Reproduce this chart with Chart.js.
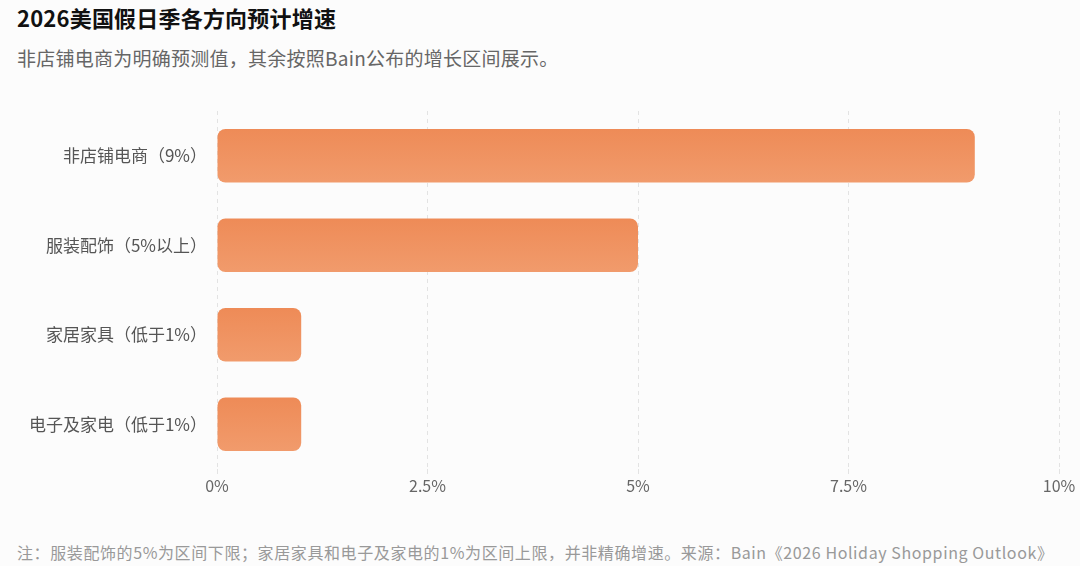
<!DOCTYPE html>
<html>
<head>
<meta charset="utf-8">
<script src="https://cdn.jsdelivr.net/npm/chart.js@4"></script>
<style>
  html, body { margin: 0; padding: 0; background: #fcfcfc; }
  body { width: 1080px; height: 566px; position: relative; overflow: hidden; font-family: "Noto Sans CJK SC", "Noto Sans", sans-serif; }
  #title { position: absolute; left: 17px; top: 2px; font-size: 22px; font-weight: bold; color: #111; line-height: 30px; white-space: nowrap; letter-spacing: 0.2px; }
  #subtitle { position: absolute; left: 17px; top: 44px; font-size: 19px; color: #666; line-height: 28px; white-space: nowrap; letter-spacing: 0.25px; }
  #note { position: absolute; left: 17px; top: 540px; font-size: 16px; color: #999; line-height: 24px; white-space: nowrap; letter-spacing: 0.6px; }
  #wrap { position: absolute; left: 0; top: 84px; width: 1080px; height: 430px; }
</style>
</head>
<body>
<div id="title">2026美国假日季各方向预计增速</div>
<div id="subtitle">非店铺电商为明确预测值，其余按照Bain公布的增长区间展示。</div>
<div id="wrap"><canvas id="c"></canvas></div>
<div id="note">注：服装配饰的5%为区间下限；家居家具和电子及家电的1%为区间上限，并非精确增速。来源：Bain《2026 Holiday Shopping Outlook》</div>
<script>
const categories = ["非店铺电商（9%）", "服装配饰（5%以上）", "家居家具（低于1%）", "电子及家电（低于1%）"];
const growthValues = [9, 5, 1, 1];
const xTicks = [0, 2.5, 5, 7.5, 10];

function barGradient(ctx) {
  const chart = ctx.chart;
  const ys = chart.scales && chart.scales.y;
  if (!ys || ctx.dataIndex === undefined) return "#ef9260";
  const yc = ys.getPixelForValue(ctx.dataIndex);
  if (!isFinite(yc)) return "#ef9260";
  const h = 27;
  const g = chart.ctx.createLinearGradient(0, yc - h, 0, yc + h);
  g.addColorStop(0, "#ee8b57");
  g.addColorStop(1, "#f19b6c");
  return g;
}

new Chart(document.getElementById("c"), {
  type: "bar",
  data: {
    labels: categories,
    datasets: [{
      data: growthValues,
      backgroundColor: barGradient,
      borderRadius: 8,
      borderSkipped: false,
      barPercentage: 0.6,
      categoryPercentage: 1.0
    }]
  },
  options: {
    indexAxis: "y",
    responsive: true,
    maintainAspectRatio: false,
    animation: false,
    layout: { padding: { top: 27, right: 21, bottom: 0, left: 0 } },
    plugins: { legend: { display: false }, tooltip: { enabled: false } },
    scales: {
      x: {
        min: 0, max: 10,
        afterBuildTicks: (axis) => { axis.ticks = xTicks.map(v => ({ value: v })); },
        afterFit: (axis) => { axis.height = 45; },
        grid: { color: "#e3e3e3", lineWidth: 1, tickLength: 5, drawTicks: true },
        border: { display: false, dash: [4, 4] },
        ticks: {
          color: "#666",
          padding: 2,
          font: { family: "Noto Sans CJK SC", size: 16 },
          callback: (v) => v + "%"
        }
      },
      y: {
        afterFit: (axis) => { axis.width = 217; },
        grid: { display: false },
        border: { display: false },
        ticks: {
          color: "#555",
          padding: 2,
          font: { family: "Noto Sans CJK SC", size: 17 }
        }
      }
    }
  }
});
</script>
</body>
</html>
